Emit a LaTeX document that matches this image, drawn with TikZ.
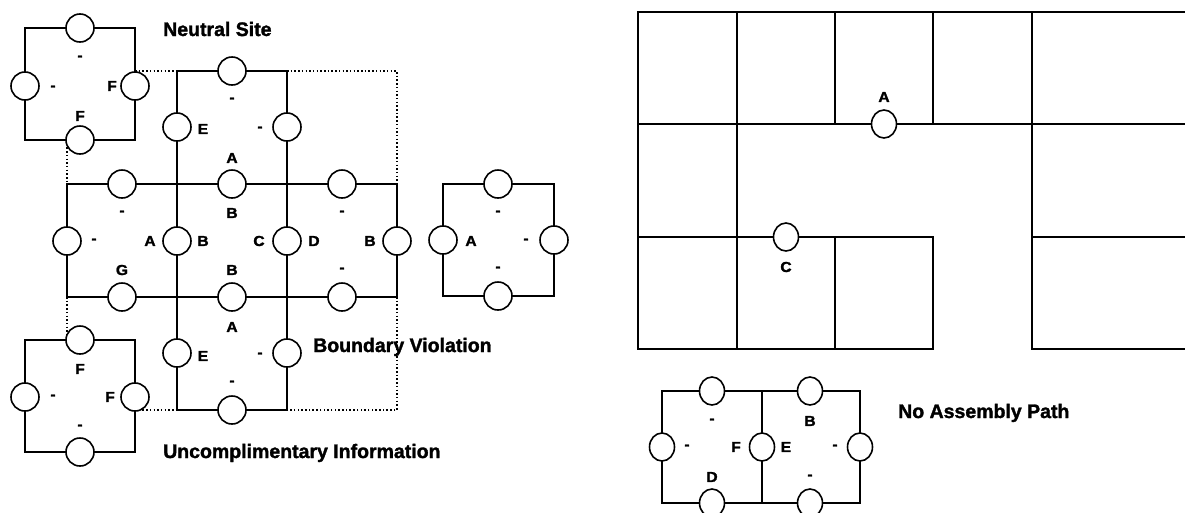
\documentclass[tikz,border=0pt]{standalone}
\usepackage{fontspec}
\setmainfont{Liberation Sans}
\newfontfamily\heavyfam{Liberation Sans}[UprightFont=*-Bold, FakeBold=1.6, FakeStretch=1.08]
\newfontfamily\ttlfam{Liberation Sans}[UprightFont=*-Bold, FakeBold=1.6]
\usetikzlibrary{shapes.geometric}
\newcommand{\labfnt}{\heavyfam\fontsize{14.5}{14.5}\selectfont}
\newcommand{\ttlfnt}{\ttlfam\fontsize{19.5}{19.5}\selectfont}
\tikzset{
  wall/.style={line width=2pt, line cap=rect},
  port/.style={circle, draw, line width=1.6pt, fill=white, minimum size=28pt, inner sep=0pt},
  porte/.style={ellipse, draw, line width=1.6pt, fill=white, minimum width=25pt, minimum height=28pt, inner sep=0pt},
  lab/.style={font=\labfnt, inner sep=0pt},
  ttl/.style={font=\ttlfnt, anchor=base west, inner sep=0pt},
  dots/.style={line width=1.5pt, dash pattern=on 1.5pt off 2.2pt}
}
\begin{document}
\begin{tikzpicture}[x=1pt, y=-1pt]
\useasboundingbox (0,0) rectangle (1185,512);

% ---------- titles ----------
\node[ttl] (tN) at (163,36) {Neutral Site};
\node[ttl] (tB) at (313,352) {Boundary Violation};
\node[ttl] (tU) at (163,458) {Uncomplimentary Information};
\node[ttl] (tP) at (898,418) {No Assembly Path};

% ---------- dotted boundary ----------
\draw[dots] (135,71) -- (177,71);
\draw[dots] (287,71) -- (397,71) -- (397,184);
\draw[dots] (67,140) -- (67,184);
\draw[dots] (67,297) -- (67,340);
\draw[dots] (397,297) -- (397,410) -- (287,410);
\draw[dots] (135,410) -- (177,410);

% ---------- tile walls (left) ----------
\draw[wall] (25,28) rectangle (135,140);
\draw[wall] (177,184) -- (177,71) -- (287,71) -- (287,184);
\draw[wall] (67,184) rectangle (397,297);
\draw[wall] (177,184) -- (177,297);
\draw[wall] (287,184) -- (287,297);
\draw[wall] (177,297) -- (177,410) -- (287,410) -- (287,297);
\draw[wall] (25,340) rectangle (135,452);
\draw[wall] (443,184) rectangle (554,296);

% ---------- ports (left) ----------
% neutral site tile
\node[port] (n1) at (80,28) {};
\node[port] (n2) at (25,86) {};
\node[port] (n3) at (135,86) {};
\node[port] (n4) at (80,140) {};
% top centre tile
\node[port] (t1) at (232,71) {};
\node[port] (t2) at (177,127) {};
\node[port] (t3) at (287,127) {};
% middle row
\node[port] (m1) at (122,184) {};
\node[port] (m2) at (232,184) {};
\node[port] (m3) at (342,184) {};
\node[port] (m4) at (67,241) {};
\node[port] (m5) at (177,241) {};
\node[port] (m6) at (287,241) {};
\node[port] (m7) at (397,241) {};
\node[port] (m8) at (122,297) {};
\node[port] (m9) at (232,297) {};
\node[port] (m10) at (342,297) {};
% bottom centre tile
\node[port] (b1) at (177,353) {};
\node[port] (b2) at (287,353) {};
\node[port] (b3) at (232,410) {};
% uncomplimentary tile
\node[port] (u1) at (80,340) {};
\node[port] (u2) at (25,397) {};
\node[port] (u3) at (135,397) {};
\node[port] (u4) at (80,452) {};
% isolated tile
\node[port] (i1) at (498,184) {};
\node[port] (i2) at (443,240) {};
\node[port] (i3) at (554,240) {};
\node[port] (i4) at (498,296) {};

% ---------- labels (left) ----------
\node[lab] (ln1) at (80,58) {-};
\node[lab] (ln2) at (53,88) {-};
\node[lab] (ln3) at (112,86) {F};
\node[lab] (ln4) at (80,116) {F};

\node[lab] (lt1) at (232,100) {-};
\node[lab] (lt2) at (203,129) {E};
\node[lab] (lt3) at (260,129) {-};
\node[lab] (lt4) at (232,158) {A};

\node[lab] (lm1) at (122,213) {-};
\node[lab] (lm2) at (94,241) {-};
\node[lab] (lm3) at (150,241) {A};
\node[lab] (lm4) at (122,270) {G};
\node[lab] (lm5) at (232,213) {B};
\node[lab] (lm6) at (203,241) {B};
\node[lab] (lm7) at (259,241) {C};
\node[lab] (lm8) at (232,270) {B};
\node[lab] (lm9) at (342,213) {-};
\node[lab] (lm10) at (314,241) {D};
\node[lab] (lm11) at (370,241) {B};
\node[lab] (lm12) at (342,270) {-};

\node[lab] (lb1) at (232,327) {A};
\node[lab] (lb2) at (203,356) {E};
\node[lab] (lb3) at (260,355) {-};
\node[lab] (lb4) at (232,383) {-};

\node[lab] (lu1) at (80,369) {F};
\node[lab] (lu2) at (53,397) {-};
\node[lab] (lu3) at (110,397) {F};
\node[lab] (lu4) at (80,427) {-};

\node[lab] (li1) at (498,213) {-};
\node[lab] (li2) at (471,241) {A};
\node[lab] (li3) at (526,241) {-};
\node[lab] (li4) at (498,269) {-};

% ---------- right: assembly grid ----------
\draw[wall] (1185,12) -- (638,12) -- (638,349) -- (933,349) -- (933,237) -- (638,237);
\draw[wall] (638,124) -- (1185,124);
\draw[wall] (737,12) -- (737,349);
\draw[wall] (835,12) -- (835,124);
\draw[wall] (933,12) -- (933,124);
\draw[wall] (835,237) -- (835,349);
\draw[wall] (1032,12) -- (1032,349);
\draw[wall] (1032,237) -- (1185,237);
\draw[wall] (1032,349) -- (1185,349);

\node[porte] (gA) at (884,124) {};
\node[lab] (lgA) at (884,97) {A};
\node[porte] (gC) at (786,237) {};
\node[lab] (lgC) at (786,267) {C};

% ---------- right: two-tile assembly ----------
\draw[wall] (662,391) rectangle (860,503);
\draw[wall] (762,391) -- (762,503);
\node[porte] (p1) at (712,391) {};
\node[porte] (p2) at (810,391) {};
\node[porte] (p3) at (662,447) {};
\node[porte] (p4) at (762,447) {};
\node[porte] (p5) at (860,447) {};
\node[porte] (p6) at (712,503) {};
\node[porte] (p7) at (810,503) {};

\node[lab] (lp1) at (712,421) {-};
\node[lab] (lp2) at (810,421) {B};
\node[lab] (lp3) at (687,447) {-};
\node[lab] (lp4) at (736,447) {F};
\node[lab] (lp5) at (786,447) {E};
\node[lab] (lp6) at (835,447) {-};
\node[lab] (lp7) at (712,477) {D};
\node[lab] (lp8) at (810,477) {-};
\end{tikzpicture}
\end{document}
